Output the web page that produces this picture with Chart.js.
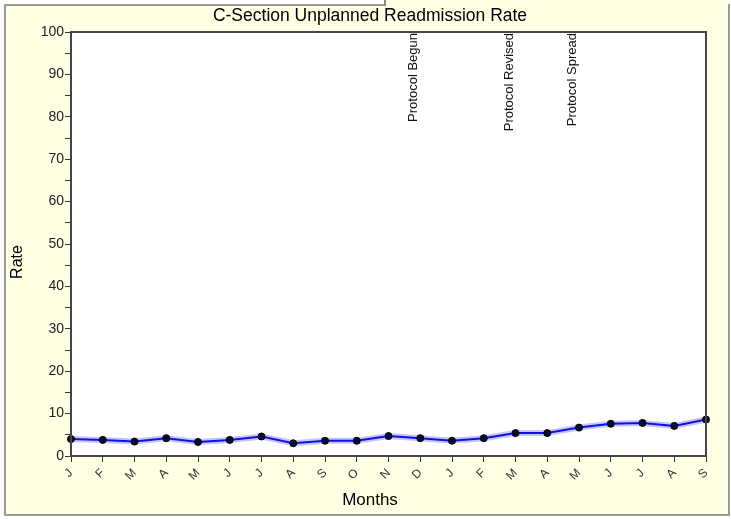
<!DOCTYPE html>
<html>
<head>
<meta charset="utf-8">
<script src="https://cdn.jsdelivr.net/npm/chart.js@4/dist/chart.umd.min.js"></script>
<style>
  html, body { margin: 0; padding: 0; background: #fff; }
  #frame { position: absolute; left: 4px; top: 4px; width: 722px; height: 508px;
           border: 2px solid #9a9a9a; background: #ffffe3; }
  #frameTop { position: absolute; left: 386px; top: 0; width: 342px; height: 7px; background: #ffffe3; }
  #notch { position: absolute; left: 384px; top: 0; width: 2px; height: 6px; background: #8a8a8a; }
  #wrap { position: absolute; left: 0; top: 0; width: 731px; height: 519px; }
</style>
</head>
<body>
<div id="frame"></div>
<div id="frameTop"></div>
<div id="notch"></div>
<div id="wrap"><canvas id="rateChart" width="731" height="519"></canvas></div>
<script>
// data
const months = ['J','F','M','A','M','J','J','A','S','O','N','D','J','F','M','A','M','J','J','A','S'];
const rates = [4.0, 3.8, 3.4, 4.2, 3.3, 3.8, 4.6, 3.0, 3.6, 3.6, 4.7, 4.2, 3.6, 4.2, 5.4, 5.4, 6.7, 7.6, 7.8, 7.1, 8.6];
const yTicks = [0, 10, 20, 30, 40, 50, 60, 70, 80, 90, 100];
const noteIndex = [11, 14, 16];
const noteText = ['Protocol Begun', 'Protocol Revised', 'Protocol Spread'];

const font = 'Arial, "Liberation Sans", sans-serif';

// white plot area, frame round it, titles and the vertical protocol notes
const plotBox = {
    id: 'plotBox',
    beforeDraw(chart) {
        const a = chart.chartArea, c = chart.ctx;
        c.save();
        c.fillStyle = '#ffffff';
        c.fillRect(a.left, a.top, a.right - a.left, a.bottom - a.top);
        c.restore();
    },
    afterDraw(chart) {
        const a = chart.chartArea, c = chart.ctx;
        const x = chart.scales.x;
        c.save();
        c.strokeStyle = '#454545';
        c.lineWidth = 2;
        c.strokeRect(a.left, a.top, a.right - a.left, a.bottom - a.top);

        c.fillStyle = '#000';
        c.textAlign = 'center';
        c.textBaseline = 'middle';
        c.font = '17.5px ' + font;
        c.fillText('C-Section Unplanned Readmission Rate', 370, 16);
        c.font = '17px ' + font;
        c.fillText('Months', 370, 500);
        c.save();
        c.translate(18, 262);
        c.rotate(-Math.PI / 2);
        c.font = '16px ' + font;
        c.fillText('Rate', 0, 0);
        c.restore();

        c.fillStyle = '#111';
        c.font = '13px ' + font;
        c.textAlign = 'right';
        c.textBaseline = 'alphabetic';
        noteIndex.forEach((idx, i) => {
            const px = x.getPixelForValue(idx);
            c.save();
            c.translate(px - 3, a.top + 1);
            c.rotate(-Math.PI / 2);
            c.fillText(noteText[i], 0, 0);
            c.restore();
        });
        c.restore();
    }
};

new Chart(document.getElementById('rateChart'), {
    type: 'line',
    data: {
        labels: months,
        datasets: [{
            data: rates,
            borderColor: '#1010e8',
            borderWidth: 2,
            pointRadius: 3.5,
            pointBackgroundColor: '#0a0a30',
            pointBorderColor: '#000',
            pointBorderWidth: 1,
            tension: 0
        }, {
            data: rates,
            borderColor: 'rgba(90,90,255,0.35)',
            borderWidth: 6,
            pointRadius: 0,
            tension: 0
        }]
    },
    options: {
        responsive: false,
        animation: false,
        layout: { padding: { top: 32, right: 25, bottom: 0, left: 0 } },
        plugins: {
            legend: { display: false },
            tooltip: { enabled: false },
            title: { display: false }
        },
        scales: {
            x: {
                offset: false,
                afterFit(s) { s.height = 63; },
                border: { display: true, color: '#454545', width: 2 },
                grid: { display: true, drawOnChartArea: false, tickLength: 6, color: '#333' },
                ticks: {
                    autoSkip: false, minRotation: 45, maxRotation: 45, padding: 4,
                    color: '#333', font: { family: font, size: 12 }
                }
            },
            y: {
                min: 0, max: 100,
                afterFit(s) { s.width = 71; },
                afterBuildTicks(s) {
                    const t = [];
                    for (let v = 0; v <= 100; v += 5) t.push({ value: v });
                    s.ticks = t;
                },
                border: { display: true, color: '#454545', width: 2 },
                grid: { display: true, drawOnChartArea: false, tickLength: 6, color: '#333' },
                ticks: {
                    padding: 1, color: '#222', font: { family: font, size: 14 },
                    callback: v => yTicks.includes(v) ? v : ''
                }
            }
        }
    },
    plugins: [plotBox]
});
</script>
</body>
</html>
